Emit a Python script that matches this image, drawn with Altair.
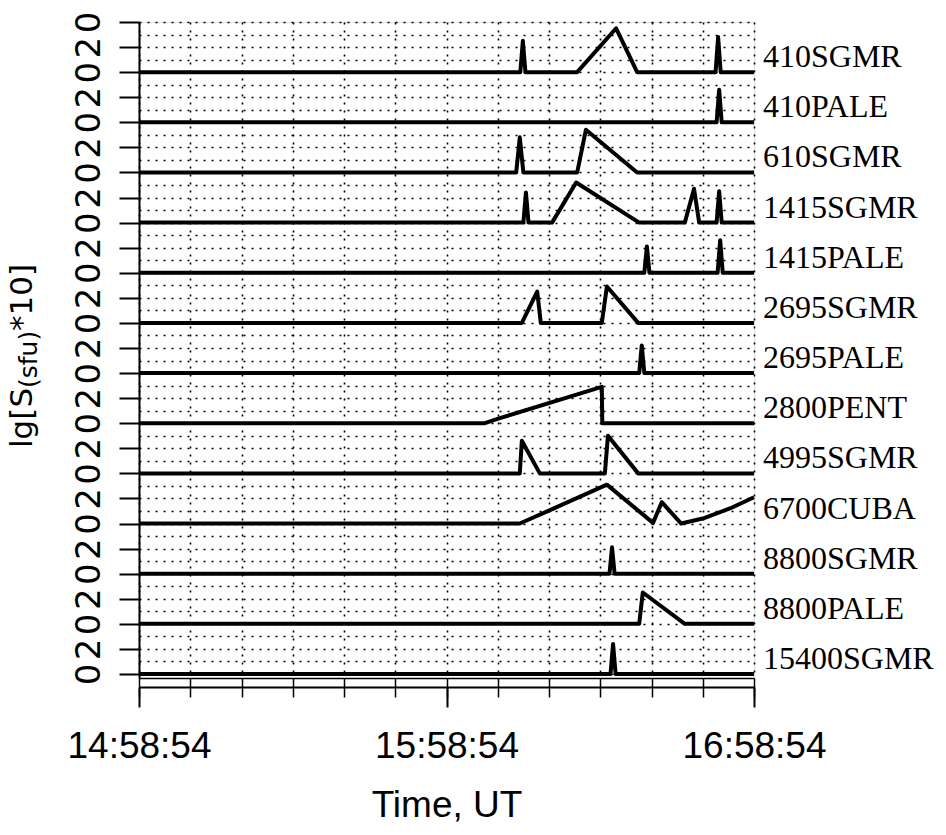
import altair as alt
import pandas as pd

# ---- data (time in minutes after 14:58:54, value in panel units 0..4) ----
stations = ["410SGMR", "410PALE", "610SGMR", "1415SGMR", "1415PALE", "2695SGMR",
            "2695PALE", "2800PENT", "4995SGMR", "6700CUBA", "8800SGMR", "8800PALE", "15400SGMR"]

t_410SGMR = [0, 74.4, 74.9, 75.4, 85.5, 93.1, 97.2, 112.5, 113.0, 113.5, 120]
v_410SGMR = [0, 0, 2.5, 0, 0, 3.5, 0, 0, 2.8, 0, 0]
t_410PALE = [0, 112.7, 113.2, 113.7, 120]
v_410PALE = [0, 0, 2.6, 0, 0]
t_610SGMR = [0, 73.6, 74.3, 75.0, 85.5, 87.2, 97.2, 120]
v_610SGMR = [0, 0, 2.8, 0, 0, 3.4, 0, 0]
t_1415SGMR = [0, 75.0, 75.5, 76.0, 80.6, 85.3, 97.6, 106.5, 108.3, 109.3, 112.7, 113.2, 113.7, 120]
v_1415SGMR = [0, 0, 2.4, 0, 0, 3.2, 0, 0, 2.7, 0, 0, 2.5, 0, 0]
t_1415PALE = [0, 98.6, 99.1, 99.6, 112.9, 113.4, 113.9, 120]
v_1415PALE = [0, 0, 2.1, 0, 0, 2.6, 0, 0]
t_2695SGMR = [0, 74.7, 77.7, 78.4, 90.3, 91.3, 97.4, 120]
v_2695SGMR = [0, 0, 2.5, 0, 0, 2.9, 0, 0]
t_2695PALE = [0, 97.6, 98.1, 98.6, 120]
v_2695PALE = [0, 0, 2.2, 0, 0]
t_2800PENT = [0, 67.5, 70.4, 90.3, 90.4, 120]
v_2800PENT = [0, 0, 0.4, 2.9, 0, 0]
t_4995SGMR = [0, 74.3, 74.7, 78.2, 90.9, 91.5, 97.4, 120]
v_4995SGMR = [0, 0, 2.6, 0, 0, 3.0, 0, 0]
t_6700CUBA = [0, 74.3, 80.2, 91.3, 100.3, 102.0, 105.8, 110.0, 115.3, 120]
v_6700CUBA = [0, 0, 1.07, 3.1, 0.05, 1.7, 0, 0.4, 1.2, 2.1]
t_8800SGMR = [0, 91.8, 92.3, 92.8, 120]
v_8800SGMR = [0, 0, 2.1, 0, 0]
t_8800PALE = [0, 97.6, 98.3, 106.5, 120]
v_8800PALE = [0, 0, 2.5, 0, 0]
t_15400SGMR = [0, 92.0, 92.5, 93.0, 120]
v_15400SGMR = [0, 0, 2.4, 0, 0]

series = {
    "410SGMR": (t_410SGMR, v_410SGMR), "410PALE": (t_410PALE, v_410PALE),
    "610SGMR": (t_610SGMR, v_610SGMR), "1415SGMR": (t_1415SGMR, v_1415SGMR),
    "1415PALE": (t_1415PALE, v_1415PALE), "2695SGMR": (t_2695SGMR, v_2695SGMR),
    "2695PALE": (t_2695PALE, v_2695PALE), "2800PENT": (t_2800PENT, v_2800PENT),
    "4995SGMR": (t_4995SGMR, v_4995SGMR), "6700CUBA": (t_6700CUBA, v_6700CUBA),
    "8800SGMR": (t_8800SGMR, v_8800SGMR), "8800PALE": (t_8800PALE, v_8800PALE),
    "15400SGMR": (t_15400SGMR, v_15400SGMR),
}

tick_minutes = [0, 60, 120]
tick_labels = ["14:58:54", "15:58:54", "16:58:54"]
minor_minutes = [0, 10, 20, 30, 40, 50, 60, 70, 80, 90, 100, 110, 120]

# ---- layout ----
W, H = 615, 656
PANEL = 4
n = len(stations)

rows = []
for i, s in enumerate(stations):
    base = (n - 1 - i) * PANEL
    ts, vs = series[s]
    for t, v in zip(ts, vs):
        rows.append({"station": s, "t": t, "y": base + v})
df = pd.DataFrame(rows)

lab = pd.DataFrame([{"station": s, "t_end": max(series[s][0]), "base": (n - 1 - i) * PANEL}
                    for i, s in enumerate(stations)])

xscale = alt.Scale(domain=[0, 120], nice=False, zero=False)
yscale = alt.Scale(domain=[-0.32, n * PANEL], nice=False, zero=False)

yaxis = alt.Axis(
    values=list(range(0, n * PANEL + 1)),
    grid=True, gridDash=[2, 6], gridColor="black", gridWidth=1.6, gridOpacity=1,
    domainColor="black", domainWidth=2,
    tickColor="black", tickWidth=2, tickSize=20,
    tickOpacity={"condition": {"test": "datum.value % 2 !== 0", "value": 0}, "value": 1},
    labelExpr="datum.value % 4 === 0 ? '0' : (datum.value % 2 === 0 ? '2' : '')",
    labelAngle=270, labelAlign="center", labelBaseline="alphabetic", labelPadding=20,
    labelFont="DejaVu Sans", labelFontSize=34, labelColor="black",
    labelOverlap=False, labelBound=False, labelFlush=False, title=None,
)

minor_axis = alt.Axis(
    values=minor_minutes, orient="bottom", offset=0,
    grid=True, gridDash=[2, 6], gridColor="black", gridWidth=1.6, gridOpacity=1,
    labels=False, tickSize=19, tickWidth=1.5, tickColor="black",
    domainColor="black", domainWidth=1.5, title=None,
)

expr = "''"
for m, l in zip(reversed(tick_minutes), reversed(tick_labels)):
    expr = f"datum.value === {m} ? '{l}' : ({expr})"

major_axis = alt.Axis(
    values=tick_minutes, orient="bottom", offset=9, grid=False,
    tickSize=20, tickWidth=2, tickColor="black", domainColor="black", domainWidth=2,
    labelExpr=expr, labelFont="Liberation Sans", labelFontSize=37, labelColor="black",
    labelPadding=21, labelFlush=False, labelOverlap=False,
    title="Time, UT", titleFont="Liberation Sans", titleFontSize=37, titleFontWeight="normal",
    titleColor="black", titlePadding=23,
)

lines = alt.Chart(df).mark_line(color="black", strokeWidth=4, strokeJoin="round").encode(
    x=alt.X("t:Q", scale=xscale, axis=minor_axis),
    y=alt.Y("y:Q", scale=yscale, axis=yaxis),
    detail="station:N",
    order="t:Q",
)

labels = alt.Chart(lab).mark_text(
    align="left", baseline="middle", dx=9, dy=-15,
    font="Liberation Serif", fontSize=32, color="black",
).encode(
    x=alt.X("t_end:Q", scale=xscale, axis=major_axis),
    y=alt.Y("base:Q", scale=yscale, axis=yaxis),
    text="station:N",
)

one = pd.DataFrame({"k": [0]})
yt1 = alt.Chart(one).mark_text(angle=270, align="left", baseline="alphabetic",
                               font="DejaVu Sans", fontSize=31, color="black").encode(
    x=alt.value(-107), y=alt.value(426), text=alt.value("lg[S"))
yt2 = alt.Chart(one).mark_text(angle=270, align="left", baseline="alphabetic",
                               font="DejaVu Sans", fontSize=25, color="black").encode(
    x=alt.value(-102), y=alt.value(366), text=alt.value("(sfu)"))
yt3 = alt.Chart(one).mark_text(angle=270, align="left", baseline="alphabetic",
                               font="DejaVu Sans", fontSize=31, color="black").encode(
    x=alt.value(-107), y=alt.value(309), text=alt.value("*10]"))

chart = alt.layer(lines, labels, yt1, yt2, yt3).resolve_axis(x="independent").properties(
    width=W, height=H,
    autosize=alt.AutoSizeParams(type="none"),
    padding={"left": 139, "top": 22, "right": 192, "bottom": 157},
).configure_view(stroke="black", strokeWidth=1.5).configure(background="white")

chart.save("out.html", embed_options={"renderer": "svg", "actions": False})
